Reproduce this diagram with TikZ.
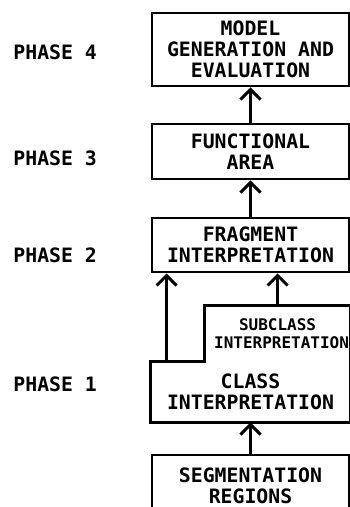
\documentclass[tikz,border=0pt]{standalone}
\usepackage{fontspec}
\setmonofont{DejaVu Sans Mono}
\usetikzlibrary{arrows.meta,calc,positioning}

\begin{document}
\begin{tikzpicture}[x=1pt,y=1pt,line width=2.9pt,
        stage/.style={draw,align=center,inner sep=0pt,
          font=\ttfamily\bfseries\fontsize{19.8}{21}\selectfont},
        phaselbl/.style={anchor=west,inner sep=0pt,
          font=\ttfamily\bfseries\fontsize{19.8}{21}\selectfont},
        link/.style={-{Straight Barb[length=10pt,width=20pt,line width=2.9pt]}}]
        \useasboundingbox (0,0) rectangle (350,-507);
        \clip (0,0) rectangle (350,-507);

        % Phase labels on the left.
        \node[phaselbl] (ph4) at (12,-52) {PHASE 4};
        \node[phaselbl] (ph3) at (12,-158) {PHASE 3};
        \node[phaselbl] (ph2) at (12,-255) {PHASE 2};
        \node[phaselbl] (ph1) at (12,-384) {PHASE 1};

        % Stages, bottom one runs off the page.
        \node[stage,minimum width=197pt,minimum height=73pt]
          (model) at (250.5,-49.5) {MODEL\\GENERATION AND\\EVALUATION};
        \node[stage,minimum width=197pt,minimum height=55pt]
          (func) at (250.5,-151.5) {FUNCTIONAL\\AREA};
        \node[stage,minimum width=197pt,minimum height=54pt]
          (frag) at (250.5,-245) {FRAGMENT\\INTERPRETATION};
        \node[stage,draw=none,minimum width=197pt,minimum height=58pt]
          (class) at (250.5,-392) {CLASS\\INTERPRETATION};
        \node[stage,draw=none,minimum width=142pt,minimum height=53pt,
          anchor=south east,font=\ttfamily\bfseries\fontsize{16}{18}\selectfont]
          (subcl) at (class.north east) {SUBCLASS\\\hspace*{8pt}INTERPRETATION};
        \node[stage,minimum width=197pt,minimum height=62pt]
          (seg) at (250.5,-486) {SEGMENTATION\\REGIONS};

        % Class and subclass share one outline.
        \draw (subcl.south west) -- (class.north west) -- (class.south west)
          -- (class.south east) -- (subcl.north east) -- (subcl.north west)
          -- cycle;

        % Flow upwards.
        \draw[link] (seg.north) -- (class.south);
        \draw[link] ($(class.north west)+(16,0)$) coordinate (cl)
          -- (cl |- frag.south);
        \draw[link] (subcl.north) -- (subcl.north |- frag.south);
        \draw[link] (frag.north) -- (func.south);
        \draw[link] (func.north) -- (model.south);
      \end{tikzpicture}
\end{document}
